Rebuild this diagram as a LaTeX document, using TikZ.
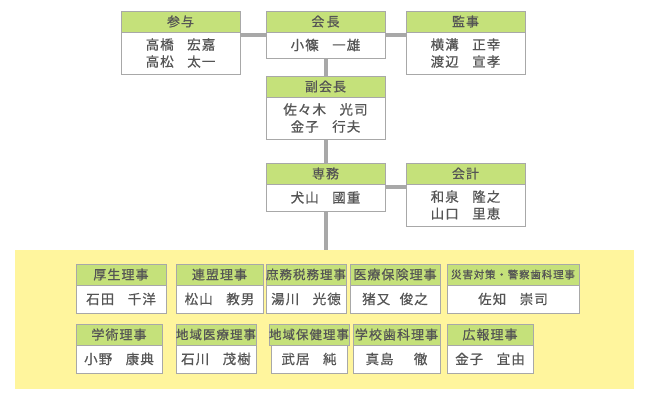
\documentclass[tikz,border=0pt]{standalone}
\usepackage{fontspec}
\setmainfont{Noto Sans CJK JP}[AutoFakeBold=0.6, LetterSpace=8]
\usetikzlibrary{backgrounds}
\definecolor{headgreen}{HTML}{C5E17A}
\definecolor{panelyellow}{HTML}{FFF59D}
\definecolor{linegray}{HTML}{A8A8A8}
\definecolor{textgray}{HTML}{555555}
% \orgbox{name}{x1}{x2}{y1}{y2}{title}{members}
\newcommand{\orgbox}[7]{%
  \node (#1) [box, minimum width={#3-#2}, minimum height={#5-#4}] at ({(#2+#3)/2},{(#4+#5)/2}) {};
  \node (#1h) [head, minimum width={#3-#2}] at ({(#2+#3)/2},{#4+10.5}) {#6};
  \node (#1t) [members] at ({(#2+#3)/2},{(#4+21+#5)/2}) {#7};
}
\begin{document}
\begin{tikzpicture}[
x=1pt, y=-1pt,
box/.style={draw=linegray, fill=white, thick, inner sep=0pt},
head/.style={fill=headgreen, draw=linegray, thick, minimum height=21, inner sep=0pt, text=textgray, font=\bfseries\fontsize{13}{13}\selectfont},
members/.style={text=textgray, align=center, font=\bfseries\fontsize{13.5}{17}\selectfont, inner sep=0pt},
link/.style={linegray, line width=4pt}
]
\useasboundingbox (0,0) rectangle (650,400);
\fill[panelyellow] (15,250) rectangle (634,389);
\coordinate (panel) at (325.5,250);

\orgbox{sanyo}{121}{240}{11}{74}{参与}{高橋\hspace{1em}宏嘉\\高松\hspace{1em}太一}
\orgbox{kaicho}{266}{385}{11}{58}{会\,長}{小篠\hspace{1em}一雄}
\orgbox{kanji}{406}{525}{11}{74}{監事}{横溝\hspace{1em}正幸\\渡辺\hspace{1em}宣孝}
\orgbox{fuku}{266}{385}{76}{139}{副会長}{佐々木\hspace{1em}光司\\金子\hspace{1em}行夫}
\orgbox{senmu}{266}{385}{163}{211}{専務}{犬山\hspace{1em}國重}
\orgbox{kaikei}{406}{525}{163}{226}{会計}{和泉\hspace{1em}隆之\\山口\hspace{1em}里恵}

\orgbox{kosei}{76}{166}{264}{313}{厚生理事}{石田\hspace{1em}千洋}
\orgbox{renmei}{176}{263}{264}{313}{連盟理事}{松山\hspace{1em}教男}
\orgbox{shomu}{266}{346}{264}{313}{\fontsize{12.5}{13}\selectfont 庶務税務理事}{湯川\hspace{1em}光徳}
\orgbox{iryo}{350}{440}{264}{313}{医療保険理事}{猪又\hspace{0.7em}俊之}
\orgbox{saigai}{447}{579}{264}{313}{\fontsize{10.5}{12}\selectfont 災害対策・警察歯科理事}{佐知\hspace{1em}崇司}

\orgbox{gakujutsu}{76}{162}{324}{373}{学術理事}{小野\hspace{1em}康典}
\orgbox{chiiki}{176}{256}{324}{373}{\fontsize{12.5}{13}\selectfont 地域医療理事}{石川\hspace{1em}茂樹}
\orgbox{hoken}{271}{347}{324}{373}{\fontsize{12.5}{13}\selectfont 地域保健理事}{武居\hspace{1em}純}
\orgbox{gakko}{353}{440}{324}{373}{学校歯科理事}{真島\hspace{1.5em}徹}
\orgbox{koho}{447}{533}{324}{373}{広報理事}{金子\hspace{1em}宜由}

\begin{scope}[on background layer]
\draw[link] (sanyo.east |- kaicho.center) -- (kaicho) -- (kanji.west |- kaicho.center);
\draw[link] (kaicho) -- (panel);
\draw[link] (senmu) -- (kaikei.west |- senmu.center);
\end{scope}
\end{tikzpicture}
\end{document}
